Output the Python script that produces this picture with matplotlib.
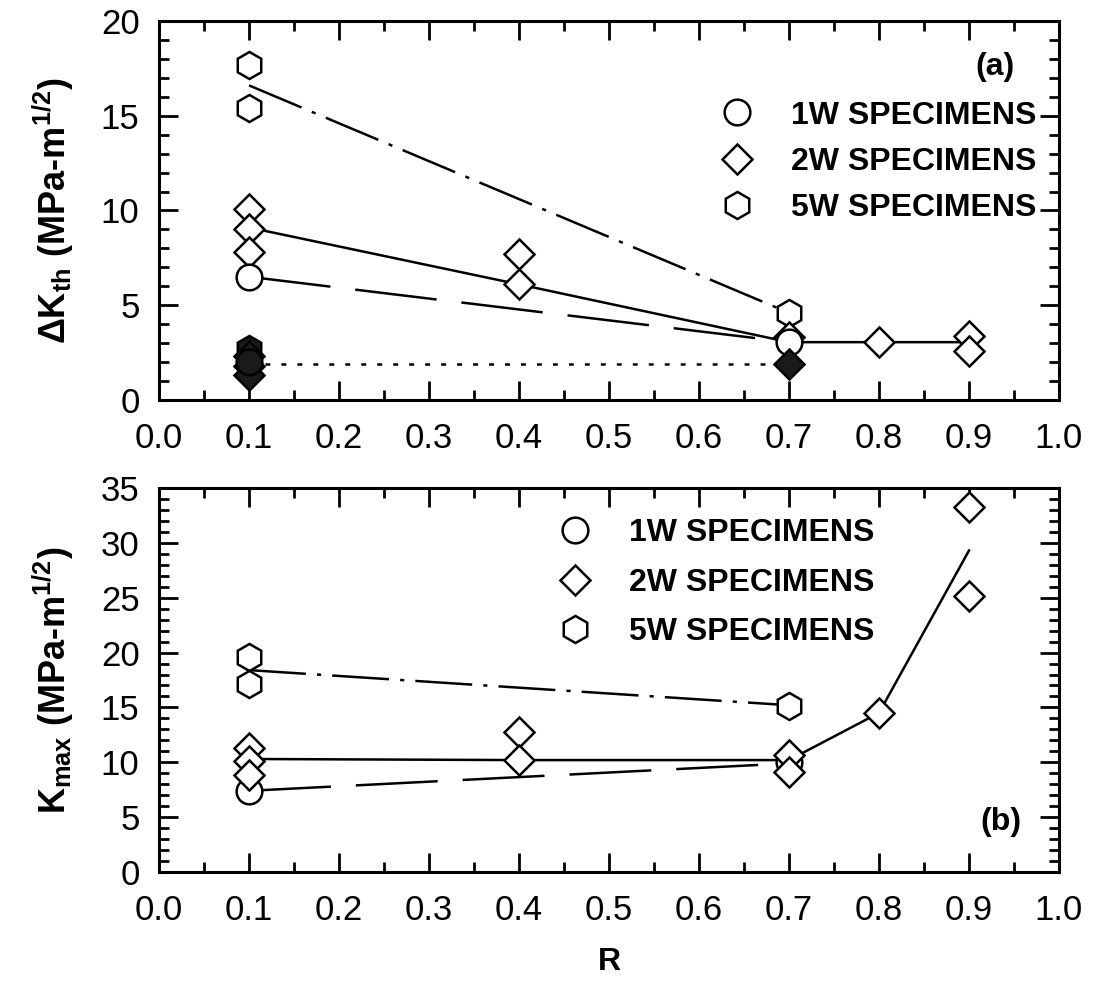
import matplotlib
matplotlib.use("Agg")
import matplotlib.pyplot as plt
from matplotlib.lines import Line2D
from matplotlib.ticker import MultipleLocator, FormatStrFormatter

plt.rcParams["font.family"] = ["Liberation Sans", "DejaVu Sans"]
plt.rcParams["mathtext.fontset"] = "custom"
plt.rcParams["mathtext.rm"] = "Liberation Sans:bold"
plt.rcParams["mathtext.bf"] = "Liberation Sans:bold"
plt.rcParams["mathtext.default"] = "bf"
plt.rcParams["lines.scale_dashes"] = False

# ---------------------------------------
# Threshold data, panel (a): Delta K_th vs R
# ---------------------------------------
a_1w_r = [0.1, 0.7]
a_1w_k = [6.5, 3.05]
a_2w_r = [0.1, 0.1, 0.1, 0.4, 0.4, 0.7, 0.8, 0.9, 0.9]
a_2w_k = [10.1, 9.0, 7.8, 7.7, 6.1, 3.3, 3.05, 3.4, 2.6]
a_5w_r = [0.1, 0.1, 0.7]
a_5w_k = [17.7, 15.4, 4.6]

# no-growth (filled) points
a_nogrow_hex_r = [0.1]
a_nogrow_hex_k = [2.7]
a_nogrow_dia_r = [0.1, 0.1, 0.1, 0.7]
a_nogrow_dia_k = [2.3, 1.8, 1.3, 1.9]
a_nogrow_circ_r = [0.1]
a_nogrow_circ_k = [2.0]

# trend lines, panel (a)
a_fit_1w_r = [0.1, 0.7]
a_fit_1w_k = [6.5, 3.05]
a_fit_2w_r = [0.1, 0.4, 0.7, 0.8, 0.9]
a_fit_2w_k = [9.1, 6.1, 3.05, 3.05, 3.05]
a_fit_5w_r = [0.1, 0.7]
a_fit_5w_k = [16.6, 4.6]
a_fit_nogrow_r = [0.1, 0.7]
a_fit_nogrow_k = [1.9, 1.9]

# ---------------------------------------
# Panel (b): K_max vs R
# ---------------------------------------
b_1w_r = [0.1, 0.7]
b_1w_k = [7.4, 10.0]
b_2w_r = [0.1, 0.1, 0.1, 0.4, 0.4, 0.7, 0.7, 0.8, 0.9, 0.9]
b_2w_k = [11.3, 10.1, 8.8, 12.8, 10.2, 10.7, 9.1, 14.5, 33.3, 25.2]
b_5w_r = [0.1, 0.1, 0.7]
b_5w_k = [19.6, 17.1, 15.1]

b_fit_1w_r = [0.1, 0.7]
b_fit_1w_k = [7.4, 9.9]
b_fit_2w_r = [0.1, 0.4, 0.7, 0.8, 0.9]
b_fit_2w_k = [10.3, 10.2, 10.2, 14.5, 29.3]
b_fit_5w_r = [0.1, 0.7]
b_fit_5w_k = [18.4, 15.2]

labels = ["1W SPECIMENS", "2W SPECIMENS", "5W SPECIMENS"]

LW = 1.8
MEW = 1.8
dashdot = (0, (41, 8, 3, 8))
longdash = (0, (59, 18))
dotted = (0, (3.5, 8))

mk_open = dict(linestyle="none", markerfacecolor="white", markeredgecolor="black",
               markeredgewidth=MEW, zorder=5)
mk_fill = dict(linestyle="none", markerfacecolor="0.1", markeredgecolor="black",
               markeredgewidth=MEW, zorder=6)
sizes = {"o": 18.5, "D": 15, "h": 19.5}

fig = plt.figure(figsize=(11.06, 9.89), dpi=100)
ax1 = fig.add_axes([0.1438, 0.5956, 0.8137, 0.3832])
ax2 = fig.add_axes([0.1438, 0.1183, 0.8137, 0.3883])


def style_axis(ax, ymax, ymajor):
    ax.set_xlim(0, 1.0)
    ax.set_ylim(0, ymax)
    ax.xaxis.set_major_locator(MultipleLocator(0.1))
    ax.xaxis.set_minor_locator(MultipleLocator(0.05))
    ax.xaxis.set_major_formatter(FormatStrFormatter("%.1f"))
    ax.yaxis.set_major_locator(MultipleLocator(ymajor))
    ax.yaxis.set_minor_locator(MultipleLocator(1))
    ax.tick_params(which="both", direction="in", top=True, right=True, width=2)
    ax.tick_params(which="major", length=14, labelsize=25)
    ax.tick_params(which="minor", length=7)
    ax.tick_params(axis="x", which="major", pad=16)
    ax.tick_params(axis="y", which="major", pad=14)
    for s in ax.spines.values():
        s.set_linewidth(2.2)


# panel (a)
ax1.plot(a_fit_5w_r, a_fit_5w_k, color="black", lw=LW, linestyle=dashdot)
ax1.plot(a_fit_2w_r, a_fit_2w_k, color="black", lw=LW)
ax1.plot(a_fit_1w_r, a_fit_1w_k, color="black", lw=LW, linestyle=longdash)
ax1.plot(a_fit_nogrow_r, a_fit_nogrow_k, color="black", lw=LW, linestyle=dotted)

ax1.plot(a_5w_r, a_5w_k, marker="h", markersize=sizes["h"], **mk_open)
ax1.plot(a_2w_r, a_2w_k, marker="D", markersize=sizes["D"], **mk_open)
ax1.plot(a_1w_r, a_1w_k, marker="o", markersize=sizes["o"], **mk_open)
ax1.plot(a_nogrow_hex_r, a_nogrow_hex_k, marker="h", markersize=sizes["h"], **mk_fill)
ax1.plot(a_nogrow_dia_r, a_nogrow_dia_k, marker="D", markersize=sizes["D"], **mk_fill)
ax1.plot(a_nogrow_circ_r, a_nogrow_circ_k, marker="o", markersize=sizes["o"], **mk_fill)

style_axis(ax1, 20, 5)
ax1.set_ylabel(r"$\Delta$K$_{th}$ (MPa-m$^{1/2}$)", fontsize=26, fontweight="bold", labelpad=18)
ax1.text(0.929, 0.879, "(a)", transform=ax1.transAxes, fontsize=23, fontweight="bold",
         ha="center", va="center")

# panel (b)
ax2.plot(b_fit_5w_r, b_fit_5w_k, color="black", lw=LW, linestyle=dashdot)
ax2.plot(b_fit_2w_r, b_fit_2w_k, color="black", lw=LW)
ax2.plot(b_fit_1w_r, b_fit_1w_k, color="black", lw=LW, linestyle=longdash)

ax2.plot(b_5w_r, b_5w_k, marker="h", markersize=sizes["h"], **mk_open)
ax2.plot(b_1w_r, b_1w_k, marker="o", markersize=sizes["o"], **mk_open)
ax2.plot(b_2w_r, b_2w_k, marker="D", markersize=sizes["D"], **mk_open)

style_axis(ax2, 35, 5)
ax2.set_ylabel(r"K$_{max}$ (MPa-m$^{1/2}$)", fontsize=26, fontweight="bold", labelpad=18)
ax2.set_xlabel("R", fontsize=23, fontweight="bold", labelpad=14)
ax2.text(0.935, 0.13, "(b)", transform=ax2.transAxes, fontsize=23, fontweight="bold",
         ha="center", va="center")

# legends
handles = [
    Line2D([], [], marker=m, markersize=sizes[m], markerfacecolor="white",
           markeredgecolor="black", markeredgewidth=MEW, linestyle="none")
    for m in ["o", "D", "h"]
]
for ax, anchor, spacing in [(ax1, (0.6244, 0.790), 0.51), (ax2, (0.4444, 0.921), 0.61)]:
    ax.legend(handles, labels, loc="upper left", bbox_to_anchor=anchor, frameon=False,
              prop={"size": 23, "weight": "bold"}, handlelength=1.0,
              handletextpad=1.2, labelspacing=spacing, borderpad=0, borderaxespad=0)

fig.savefig("out.png", dpi=100)
